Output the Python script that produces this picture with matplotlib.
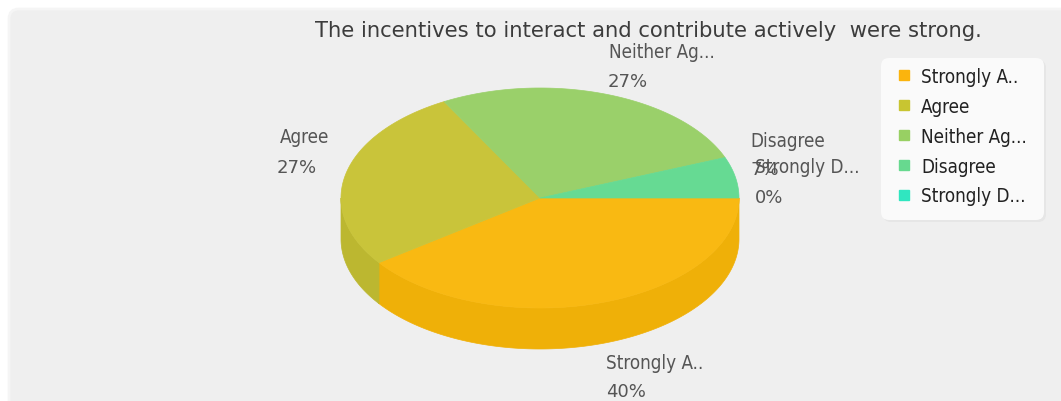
import numpy as np
import matplotlib
matplotlib.use('Agg')
from matplotlib import pyplot as plt
from matplotlib.lines import Line2D
from matplotlib.patches import FancyBboxPatch

title = 'The incentives to interact and contribute actively  were strong.'
names = ['Strongly A..', 'Agree', 'Neither Ag...', 'Disagree', 'Strongly D...']
values = [40, 27, 27, 7, 0]
top_colors = ['#f9b912', '#c9c43a', '#9ad06a', '#66da93', '#33e3bb']
side_colors = ['#efb008', '#bcb730', '#8cc05e', '#5cc886', '#2ed0aa']
legend_colors = ['#fbb40d', '#c8c531', '#98d063', '#67d98f', '#30e6c0']

# text spots on the canvas, pixels
name_xy = [(606, 364), (280, 138), (609, 53), (750, 142), (755, 168)]
pct_xy = [(606, 392), (277, 168), (608, 82), (750, 170), (755, 198)]

cx, cy, rx, ry, depth = 540, 199, 199, 110, 41

plt.rcParams['font.family'] = ['DejaVu Sans']
fig = plt.figure(figsize=(10.61, 4.02), dpi=100, facecolor='white')
ax = fig.add_axes([0, 0, 1, 1])
ax.set_xlim(0, 1061)
ax.set_ylim(402, 0)
ax.axis('off')

ax.add_patch(FancyBboxPatch((9, 10), 1070, 430, boxstyle='round,pad=0,rounding_size=10',
                            fc='#efefef', ec='#f5f5f5', lw=2, zorder=0))


def arc(a, b):
    t = np.radians(np.linspace(a, b, 200))
    return cx + rx * np.cos(t), cy + ry * np.sin(t)


# the rounded percents add up to 101, so the last slices stop at the full circle
ends = np.minimum(np.cumsum(values) * 3.6, 360)
starts = np.r_[0, ends[:-1]]

# walls first, only the front half of the rim shows
for a, b, col in zip(starts, ends, side_colors):
    a2, b2 = max(a, 0), min(b, 180)
    if b2 > a2:
        x, y = arc(a2, b2)
        ax.fill(np.r_[x, x[::-1]], np.r_[y, y[::-1] + depth], color=col, lw=0.5, zorder=2)

for a, b, col in zip(starts, ends, top_colors):
    if b > a:
        x, y = arc(a, b)
        ax.fill(np.r_[cx, x], np.r_[cy, y], color=col, lw=0.5, zorder=3)

ax.text(315, 31, title, fontsize=15.2, color='#3c3c3c', va='center', ha='left')

for name, val, p1, p2 in zip(names, values, name_xy, pct_xy):
    ax.text(p1[0], p1[1], name, fontsize=13.5, color='#555555', va='center', stretch='condensed')
    ax.text(p2[0], p2[1], '%d%%' % val, fontsize=13, color='#555555', va='center')

# legend box
ax.add_patch(FancyBboxPatch((883, 61), 163, 162, boxstyle='round,pad=0,rounding_size=8',
                            fc='#e6e6e6', ec='none', zorder=4))
ax.add_patch(FancyBboxPatch((881, 59), 163, 162, boxstyle='round,pad=0,rounding_size=8',
                            fc='#fafafa', ec='none', zorder=4))
handles = [Line2D([], [], ls='none', marker='s', ms=7.5, mfc=c, mec=c) for c in legend_colors]
leg = ax.legend(handles, names, loc='upper left', bbox_to_anchor=(891 / 1061, 1 - 68 / 402),
                borderaxespad=0, frameon=False, prop={'size': 13.5, 'stretch': 'condensed'},
                labelspacing=0.58, handletextpad=0.2, borderpad=0, handlelength=1.4)
leg.set_zorder(5)
for t in leg.get_texts():
    t.set_color('#222222')

fig.savefig('out.png', dpi=100, facecolor='white')
